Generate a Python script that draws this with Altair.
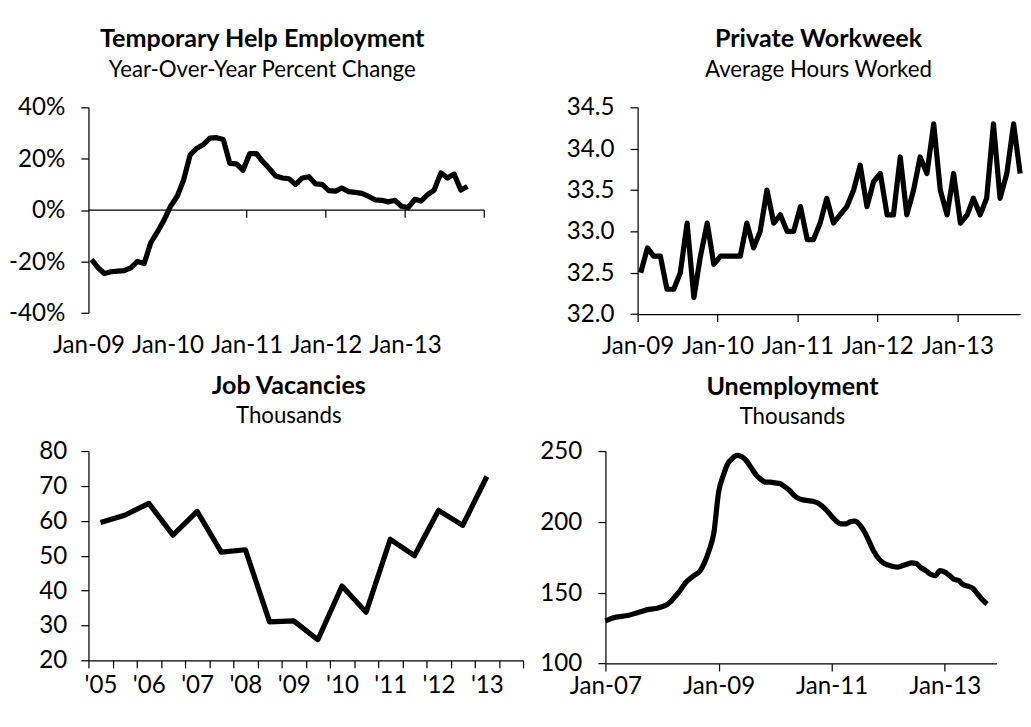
import altair as alt
import pandas as pd

FONT = "Lato"
INK = "black"

# ---------------- data ----------------
# Temporary Help Employment, y/y % change, monthly Jan-2009 .. Oct-2013
temp_help_pct = [-19.3, -22.5, -24.7, -24.0, -23.8, -23.6, -22.5, -20.0, -20.8, -12.8, -8.5, -4.0,
                 1.5, 5.5, 11.5, 21.5, 24.0, 25.5, 28.0, 28.2, 27.5, 18.2, 18.0, 15.5,
                 22.0, 22.0, 19.0, 16.2, 13.3, 12.5, 12.2, 10.0, 12.5, 13.0, 10.2, 10.0,
                 7.6, 7.4, 8.6, 7.2, 6.9, 6.5, 5.4, 4.0, 3.8, 3.2, 3.8, 1.5,
                 1.0, 4.2, 3.5, 6.0, 7.8, 14.5, 12.5, 14.0, 7.8, 9.2]

# Private Workweek, average hours worked, monthly Jan-2009 .. Oct-2013
workweek_hours = [32.5, 32.8, 32.7, 32.7, 32.3, 32.3, 32.5, 33.1, 32.2, 32.7, 33.1, 32.6,
                  32.7, 32.7, 32.7, 32.7, 33.1, 32.8, 33.0, 33.5, 33.1, 33.2, 33.0, 33.0,
                  33.3, 32.9, 32.9, 33.1, 33.4, 33.1, 33.2, 33.3, 33.5, 33.8, 33.3, 33.6,
                  33.7, 33.2, 33.2, 33.9, 33.2, 33.5, 33.9, 33.7, 34.3, 33.5, 33.2, 33.7,
                  33.1, 33.2, 33.4, 33.2, 33.4, 34.3, 33.4, 33.7, 34.3, 33.7]

# Job Vacancies, thousands, half-yearly
vacancy_periods = ["2005 H1", "2005 H2", "2006 H1", "2006 H2", "2007 H1", "2007 H2",
                   "2008 H1", "2008 H2", "2009 H1", "2009 H2", "2010 H1", "2010 H2",
                   "2011 H1", "2011 H2", "2012 H1", "2012 H2", "2013 H1", "2013 H2"]
vacancies = [59.5, 61.6, 65.0, 55.9, 62.7, 51.0, 51.7, 31.0, 31.3, 25.9, 41.3, 33.8,
             54.7, 50.0, 63.0, 58.7, 72.7]

# Unemployment, thousands, monthly Jan-2007 .. Oct-2013
unemployment = [130, 131.5, 132.5, 133, 133.5, 134, 135, 136, 137, 138, 138.5, 139,
                140, 141.5, 144, 148, 152, 157, 160, 162.5, 165, 171, 180, 192,
                221, 233, 241, 245, 247, 246, 243, 238, 233, 230, 228, 228,
                227.5, 227, 225, 222.5, 219, 216.5, 215.5, 215, 214.5, 213.5, 211, 208,
                204, 200.5, 198.5, 198.5, 200, 200.5, 198, 193, 186, 179, 174, 171,
                169.5, 168.5, 168, 169, 170, 171, 170.5, 167.5, 165.5, 163, 162, 165.5,
                164.5, 162, 159.5, 158.5, 155.5, 154.5, 153, 149, 145, 142]


def monthly(start, n, day):
    d = pd.date_range(start, periods=n, freq="MS") + pd.Timedelta(days=day - 1)
    return [x.strftime("%Y-%m-%d") for x in d]


def ms(s):
    return int(pd.Timestamp(s, tz="UTC").value // 10**6)


LW = 5.5
TICK_FS = 25.5
AX = dict(labelFont=FONT, labelFontSize=TICK_FS, labelColor=INK, domainColor=INK, tickColor=INK,
          domainWidth=1.3, tickWidth=1.3, grid=False, labelOverlap=False)


def ttl(text, sub, dx, offset, sp):
    return alt.TitleParams(text=text, subtitle=sub, font=FONT, fontSize=26.5, fontWeight="bold",
                           color=INK, subtitleFont=FONT, subtitleFontSize=23.5, subtitleColor=INK,
                           subtitlePadding=sp, anchor="middle", frame="group", dx=dx,
                           offset=offset)


# ---------------- panel 1 ----------------
df1 = pd.DataFrame({"date": monthly("2009-01-01", len(temp_help_pct), 15), "value": temp_help_pct})
x1 = alt.X("date:T", title=None, scale=alt.Scale(domain=["2009-01-01", "2014-01-01"]),
           axis=alt.Axis(values=[ms(f"{y}-01-01") for y in range(2009, 2014)], format="%b-%y",
                         domain=False, ticks=False, tickSize=0, labelPadding=21.9,
                         labelFlush=False, **AX))
y1 = alt.Y("value:Q", title=None, scale=alt.Scale(domain=[-40, 40], nice=False),
           axis=alt.Axis(values=[-40, -20, 0, 20, 40], labelExpr="datum.value + '%'",
                         tickSize=8, labelPadding=17, minExtent=81, maxExtent=81, **AX))
line1 = alt.Chart(df1).mark_line(color=INK, strokeWidth=LW, strokeJoin="round").encode(x=x1, y=y1)
zero = alt.Chart(pd.DataFrame({"v": [0]})).mark_rule(color=INK, strokeWidth=1.3).encode(
    y=alt.Y("v:Q", title=None))
zt = pd.DataFrame({"t": [f"{y}-01-01" for y in range(2010, 2015)], "a": 0.0, "b": -2.95})
zticks = alt.Chart(zt).mark_rule(color=INK, strokeWidth=1.3).encode(
    x=alt.X("t:T", title=None), y=alt.Y("a:Q", title=None), y2="b:Q")
p1 = alt.layer(zero, zticks, line1).properties(
    width=418, height=217,
    title=ttl("Temporary Help Employment", "Year-Over-Year Percent Change", -25.5, 15.6, 7))

# ---------------- panel 2 ----------------
df2 = pd.DataFrame({"date": monthly("2009-01-01", len(workweek_hours), 15), "value": workweek_hours})
p2 = alt.Chart(df2).mark_line(color=INK, strokeWidth=LW, strokeJoin="round").encode(
    x=alt.X("date:T", title=None, scale=alt.Scale(domain=["2009-01-01", "2013-10-15"]),
            axis=alt.Axis(values=[ms(f"{y}-01-01") for y in range(2009, 2014)], format="%b-%y",
                          tickSize=8, labelPadding=13.6, labelFlush=False, **AX)),
    y=alt.Y("value:Q", title=None, scale=alt.Scale(domain=[32, 34.5], nice=False, zero=False),
            axis=alt.Axis(values=[32, 32.5, 33, 33.5, 34, 34.5], format=".1f",
                          tickSize=8, labelPadding=17, minExtent=105, maxExtent=105, **AX)),
).properties(width=404, height=218.3,
             title=ttl("Private Workweek", "Average Hours Worked", -11, 16, 7))

# ---------------- panel 3 ----------------
# each half-year is one slot; the line passes through the slot centres
n_slots = len(vacancy_periods)
df3 = pd.DataFrame({"slot": [vacancy_periods.index(p) + 0.5 for p in vacancy_periods[:len(vacancies)]],
                    "value": vacancies})
slot_labels = ["'" + p[2:4] if p.endswith("H1") else "" for p in vacancy_periods] + [""]
label_js = "[" + ",".join('"%s"' % s for s in slot_labels) + "]"
p3 = alt.Chart(df3).mark_line(color=INK, strokeWidth=LW, strokeJoin="round").encode(
    x=alt.X("slot:Q", title=None, scale=alt.Scale(domain=[0, n_slots], nice=False, zero=False),
            axis=alt.Axis(values=list(range(n_slots + 1)), tickSize=8, labelPadding=5.9,
                          labelOffset=459 / n_slots / 2, labelFlush=False,
                          labelExpr=label_js + "[datum.value]", **AX)),
    y=alt.Y("value:Q", title=None, scale=alt.Scale(domain=[20, 80], nice=False, zero=False),
            axis=alt.Axis(values=[20, 30, 40, 50, 60, 70, 80], tickSize=8, labelPadding=15,
                          minExtent=53, maxExtent=53, **AX)),
).properties(width=459, height=221,
             title=ttl("Job Vacancies", "Thousands", -18, 12.85, 6))

# ---------------- panel 4 ----------------
df4 = pd.DataFrame({"date": monthly("2007-01-01", len(unemployment), 1), "value": unemployment})
p4 = alt.Chart(df4).mark_line(color=INK, strokeWidth=LW, strokeJoin="round",
                              interpolate="monotone").encode(
    x=alt.X("date:T", title=None, scale=alt.Scale(domain=["2007-01-01", "2013-12-01"]),
            axis=alt.Axis(values=[ms(f"{y}-01-01") for y in (2007, 2009, 2011, 2013)],
                          format="%b-%y", tickSize=8, labelPadding=3.3, labelFlush=False, **AX)),
    y=alt.Y("value:Q", title=None, scale=alt.Scale(domain=[100, 250], nice=False, zero=False),
            axis=alt.Axis(values=[100, 150, 200, 250], tickSize=8, labelPadding=17,
                          minExtent=71, maxExtent=71, **AX)),
).properties(width=413, height=224.3,
             title=ttl("Unemployment", "Thousands", -9, 12.15, 6))

chart = alt.ConcatChart(concat=[p1, p2, p3, p4], columns=2, align="none",
                        spacing=alt.RowColnumber(row=16, column=3)).properties(
    padding=0).configure_view(stroke=None)

chart.save("out.html", embed_options={"renderer": "svg", "actions": False})
